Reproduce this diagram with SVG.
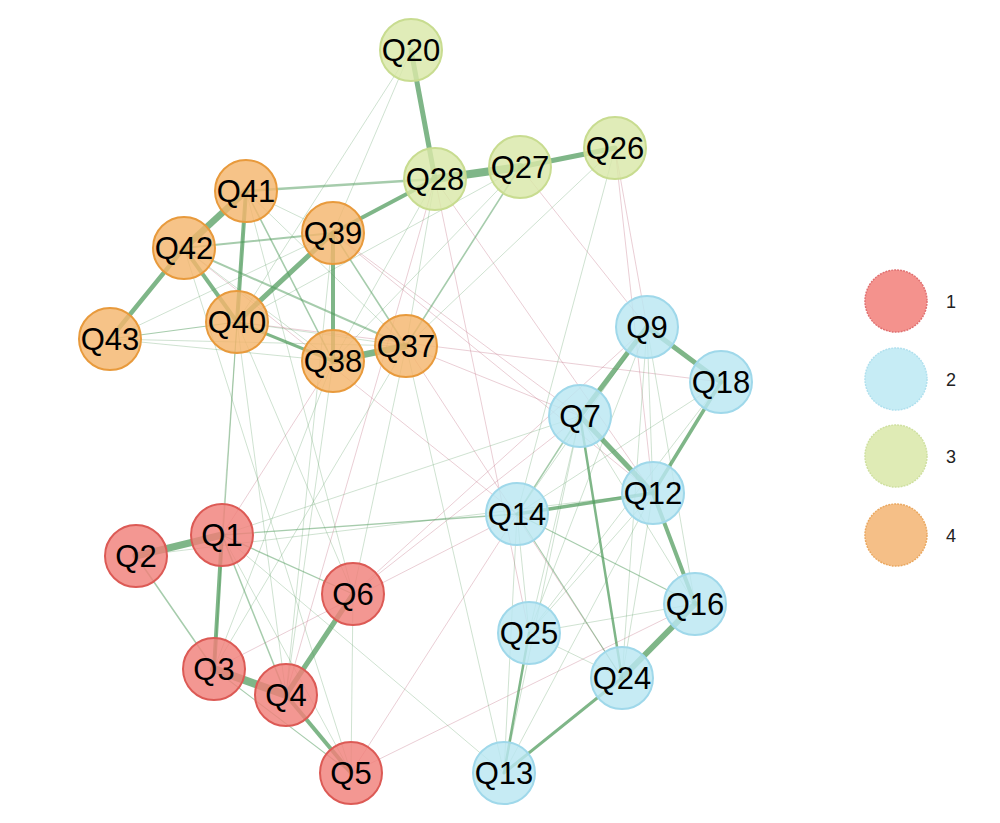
<svg xmlns="http://www.w3.org/2000/svg" width="1000" height="823" viewBox="0 0 1000 823">
<style>
.e line{stroke-linecap:round}
.g{stroke:#4e9a5a;stroke-opacity:.72}
.m{stroke:#4e9a5a;stroke-opacity:.5}
.f{stroke:#5f9f68;stroke-opacity:.3;stroke-width:1}
.p{stroke:#c4788a;stroke-opacity:.36;stroke-width:1}
.n circle{stroke-width:2;fill-opacity:.82}
.c1 circle{fill:#f0807a;stroke:#dc5a55}
.c2 circle{fill:#b9e6f2;stroke:#9fd8ea}
.c3 circle{fill:#d9e8a8;stroke:#c8dc90}
.c4 circle{fill:#f4b66e;stroke:#e89a3c}
.n text{font-family:"Liberation Sans",Arial,sans-serif;font-size:31px;text-anchor:middle;fill:#000}
.lg circle{stroke-width:1.5;stroke-dasharray:2 1}
.lg text{font-family:"Liberation Sans",Arial,sans-serif;font-size:18px;fill:#222}
</style>
<rect width="1000" height="823" fill="#ffffff"/>
<g id="connectors" class="e">
<line class="p" x1="435" y1="179" x2="653" y2="493"/>
<line class="p" x1="435" y1="179" x2="529" y2="633"/>
<line class="p" x1="520" y1="167" x2="647" y2="327"/>
<line class="p" x1="615" y1="148" x2="647" y2="327"/>
<line class="p" x1="615" y1="148" x2="653" y2="493"/>
<line class="p" x1="333" y1="361" x2="222" y2="535"/>
<line class="p" x1="333" y1="233" x2="580" y2="416"/>
<line class="p" x1="406" y1="346" x2="580" y2="416"/>
<line class="p" x1="406" y1="346" x2="622" y2="678"/>
<line class="p" x1="353" y1="594" x2="580" y2="416"/>
<line class="p" x1="351" y1="773" x2="517" y2="514"/>
<line class="p" x1="351" y1="773" x2="695" y2="604"/>
<line class="p" x1="237" y1="322" x2="721" y2="382"/>
<line class="p" x1="435" y1="179" x2="286" y2="695"/>
<line class="p" x1="333" y1="233" x2="653" y2="493"/>
<line class="p" x1="184" y1="248" x2="517" y2="514"/>
<line class="p" x1="214" y1="669" x2="517" y2="514"/>
<line class="p" x1="353" y1="594" x2="647" y2="327"/>
<line class="f" x1="411" y1="50" x2="333" y2="233"/>
<line class="f" x1="411" y1="50" x2="237" y2="322"/>
<line class="f" x1="435" y1="179" x2="406" y2="346"/>
<line class="f" x1="435" y1="179" x2="333" y2="361"/>
<line class="f" x1="520" y1="167" x2="333" y2="361"/>
<line class="f" x1="520" y1="167" x2="237" y2="322"/>
<line class="f" x1="615" y1="148" x2="406" y2="346"/>
<line class="f" x1="615" y1="148" x2="517" y2="514"/>
<line class="f" x1="110" y1="339" x2="333" y2="233"/>
<line class="f" x1="110" y1="339" x2="333" y2="361"/>
<line class="f" x1="110" y1="339" x2="406" y2="346"/>
<line class="f" x1="184" y1="248" x2="333" y2="361"/>
<line class="f" x1="246" y1="191" x2="333" y2="233"/>
<line class="f" x1="246" y1="191" x2="406" y2="346"/>
<line class="f" x1="237" y1="322" x2="406" y2="346"/>
<line class="f" x1="237" y1="322" x2="214" y2="669"/>
<line class="f" x1="237" y1="322" x2="222" y2="535"/>
<line class="f" x1="237" y1="322" x2="286" y2="695"/>
<line class="f" x1="237" y1="322" x2="353" y2="594"/>
<line class="f" x1="246" y1="191" x2="353" y2="594"/>
<line class="f" x1="246" y1="191" x2="214" y2="669"/>
<line class="f" x1="333" y1="361" x2="214" y2="669"/>
<line class="f" x1="333" y1="361" x2="286" y2="695"/>
<line class="f" x1="333" y1="233" x2="286" y2="695"/>
<line class="f" x1="406" y1="346" x2="214" y2="669"/>
<line class="f" x1="406" y1="346" x2="353" y2="594"/>
<line class="f" x1="406" y1="346" x2="504" y2="773"/>
<line class="f" x1="184" y1="248" x2="351" y2="773"/>
<line class="f" x1="222" y1="535" x2="504" y2="773"/>
<line class="f" x1="136" y1="556" x2="653" y2="493"/>
<line class="f" x1="222" y1="535" x2="580" y2="416"/>
<line class="f" x1="222" y1="535" x2="351" y2="773"/>
<line class="f" x1="353" y1="594" x2="351" y2="773"/>
<line class="f" x1="647" y1="327" x2="517" y2="514"/>
<line class="f" x1="647" y1="327" x2="529" y2="633"/>
<line class="f" x1="647" y1="327" x2="622" y2="678"/>
<line class="f" x1="647" y1="327" x2="695" y2="604"/>
<line class="f" x1="647" y1="327" x2="653" y2="493"/>
<line class="f" x1="721" y1="382" x2="517" y2="514"/>
<line class="f" x1="721" y1="382" x2="529" y2="633"/>
<line class="f" x1="580" y1="416" x2="529" y2="633"/>
<line class="f" x1="580" y1="416" x2="695" y2="604"/>
<line class="f" x1="580" y1="416" x2="504" y2="773"/>
<line class="f" x1="517" y1="514" x2="504" y2="773"/>
<line class="f" x1="517" y1="514" x2="529" y2="633"/>
<line class="f" x1="653" y1="493" x2="529" y2="633"/>
<line class="f" x1="653" y1="493" x2="622" y2="678"/>
<line class="f" x1="653" y1="493" x2="504" y2="773"/>
<line class="f" x1="695" y1="604" x2="529" y2="633"/>
<line class="f" x1="529" y1="633" x2="622" y2="678"/>
<line class="m" x1="435" y1="179" x2="246" y2="191" stroke-width="2.5"/>
<line class="m" x1="184" y1="248" x2="333" y2="233" stroke-width="2"/>
<line class="m" x1="184" y1="248" x2="406" y2="346" stroke-width="2"/>
<line class="m" x1="246" y1="191" x2="333" y2="361" stroke-width="1.6"/>
<line class="m" x1="333" y1="233" x2="406" y2="346" stroke-width="1.6"/>
<line class="m" x1="520" y1="167" x2="406" y2="346" stroke-width="1.6"/>
<line class="m" x1="110" y1="339" x2="237" y2="322" stroke-width="1.2"/>
<line class="m" x1="136" y1="556" x2="214" y2="669" stroke-width="1.5"/>
<line class="m" x1="222" y1="535" x2="286" y2="695" stroke-width="1.5"/>
<line class="m" x1="222" y1="535" x2="353" y2="594" stroke-width="1.3"/>
<line class="m" x1="222" y1="535" x2="517" y2="514" stroke-width="1.3"/>
<line class="m" x1="580" y1="416" x2="517" y2="514" stroke-width="1.5"/>
<line class="m" x1="517" y1="514" x2="695" y2="604" stroke-width="1.2"/>
<line class="m" x1="517" y1="514" x2="622" y2="678" stroke-width="1.1"/>
<line class="m" x1="214" y1="669" x2="351" y2="773" stroke-width="1.1"/>
<line class="g" x1="411" y1="50" x2="435" y2="179" stroke-width="5"/>
<line class="g" x1="435" y1="179" x2="520" y2="167" stroke-width="8"/>
<line class="g" x1="520" y1="167" x2="615" y2="148" stroke-width="5"/>
<line class="g" x1="435" y1="179" x2="333" y2="233" stroke-width="4"/>
<line class="g" x1="246" y1="191" x2="184" y2="248" stroke-width="6.5"/>
<line class="g" x1="184" y1="248" x2="110" y2="339" stroke-width="4.5"/>
<line class="g" x1="246" y1="191" x2="237" y2="322" stroke-width="4"/>
<line class="g" x1="184" y1="248" x2="237" y2="322" stroke-width="4"/>
<line class="g" x1="333" y1="233" x2="237" y2="322" stroke-width="5"/>
<line class="g" x1="333" y1="233" x2="333" y2="361" stroke-width="4"/>
<line class="g" x1="333" y1="361" x2="406" y2="346" stroke-width="6.5"/>
<line class="g" x1="237" y1="322" x2="333" y2="361" stroke-width="3"/>
<line class="g" x1="647" y1="327" x2="721" y2="382" stroke-width="5"/>
<line class="g" x1="647" y1="327" x2="580" y2="416" stroke-width="5"/>
<line class="g" x1="580" y1="416" x2="653" y2="493" stroke-width="5"/>
<line class="g" x1="721" y1="382" x2="653" y2="493" stroke-width="3.5"/>
<line class="g" x1="517" y1="514" x2="653" y2="493" stroke-width="3.5"/>
<line class="g" x1="653" y1="493" x2="695" y2="604" stroke-width="4"/>
<line class="g" x1="695" y1="604" x2="622" y2="678" stroke-width="6"/>
<line class="g" x1="622" y1="678" x2="504" y2="773" stroke-width="3"/>
<line class="g" x1="529" y1="633" x2="504" y2="773" stroke-width="2.5"/>
<line class="g" x1="580" y1="416" x2="622" y2="678" stroke-width="2.5"/>
<line class="g" x1="136" y1="556" x2="222" y2="535" stroke-width="7"/>
<line class="g" x1="222" y1="535" x2="214" y2="669" stroke-width="4"/>
<line class="g" x1="214" y1="669" x2="286" y2="695" stroke-width="8"/>
<line class="g" x1="286" y1="695" x2="353" y2="594" stroke-width="5"/>
<line class="g" x1="286" y1="695" x2="351" y2="773" stroke-width="4"/>
</g>
<g id="node-Q20" class="n c3"><circle cx="411" cy="50" r="31"/><text x="411" y="61">Q20</text></g>
<g id="node-Q28" class="n c3"><circle cx="435" cy="179" r="31"/><text x="435" y="190">Q28</text></g>
<g id="node-Q27" class="n c3"><circle cx="520" cy="167" r="31"/><text x="520" y="178">Q27</text></g>
<g id="node-Q26" class="n c3"><circle cx="615" cy="148" r="31"/><text x="615" y="159">Q26</text></g>
<g id="node-Q41" class="n c4"><circle cx="246" cy="191" r="31"/><text x="246" y="202">Q41</text></g>
<g id="node-Q42" class="n c4"><circle cx="184" cy="248" r="31"/><text x="184" y="259">Q42</text></g>
<g id="node-Q39" class="n c4"><circle cx="333" cy="233" r="31"/><text x="333" y="244">Q39</text></g>
<g id="node-Q40" class="n c4"><circle cx="237" cy="322" r="31"/><text x="237" y="333">Q40</text></g>
<g id="node-Q43" class="n c4"><circle cx="110" cy="339" r="31"/><text x="110" y="350">Q43</text></g>
<g id="node-Q38" class="n c4"><circle cx="333" cy="361" r="31"/><text x="333" y="372">Q38</text></g>
<g id="node-Q37" class="n c4"><circle cx="406" cy="346" r="31"/><text x="406" y="357">Q37</text></g>
<g id="node-Q9" class="n c2"><circle cx="647" cy="327" r="31"/><text x="647" y="338">Q9</text></g>
<g id="node-Q18" class="n c2"><circle cx="721" cy="382" r="31"/><text x="721" y="393">Q18</text></g>
<g id="node-Q7" class="n c2"><circle cx="580" cy="416" r="31"/><text x="580" y="427">Q7</text></g>
<g id="node-Q12" class="n c2"><circle cx="653" cy="493" r="31"/><text x="653" y="504">Q12</text></g>
<g id="node-Q14" class="n c2"><circle cx="517" cy="514" r="31"/><text x="517" y="525">Q14</text></g>
<g id="node-Q16" class="n c2"><circle cx="695" cy="604" r="31"/><text x="695" y="615">Q16</text></g>
<g id="node-Q25" class="n c2"><circle cx="529" cy="633" r="31"/><text x="529" y="644">Q25</text></g>
<g id="node-Q24" class="n c2"><circle cx="622" cy="678" r="31"/><text x="622" y="689">Q24</text></g>
<g id="node-Q13" class="n c2"><circle cx="504" cy="773" r="31"/><text x="504" y="784">Q13</text></g>
<g id="node-Q2" class="n c1"><circle cx="136" cy="556" r="31"/><text x="136" y="567">Q2</text></g>
<g id="node-Q1" class="n c1"><circle cx="222" cy="535" r="31"/><text x="222" y="546">Q1</text></g>
<g id="node-Q6" class="n c1"><circle cx="353" cy="594" r="31"/><text x="353" y="605">Q6</text></g>
<g id="node-Q3" class="n c1"><circle cx="214" cy="669" r="31"/><text x="214" y="680">Q3</text></g>
<g id="node-Q4" class="n c1"><circle cx="286" cy="695" r="31"/><text x="286" y="706">Q4</text></g>
<g id="node-Q5" class="n c1"><circle cx="351" cy="773" r="31"/><text x="351" y="784">Q5</text></g>
<g id="legend" class="lg">
<circle cx="896" cy="301" r="31" fill="#f4928d" stroke="#e07070"/>
<text x="946" y="308">1</text>
<circle cx="896" cy="379" r="31" fill="#c6ecf5" stroke="#b0e0ee"/>
<text x="946" y="386">2</text>
<circle cx="896" cy="456" r="31" fill="#dfebb5" stroke="#cfe0a0"/>
<text x="946" y="463">3</text>
<circle cx="896" cy="535" r="31" fill="#f5bf87" stroke="#eaa860"/>
<text x="946" y="542">4</text>
</g>
</svg>
